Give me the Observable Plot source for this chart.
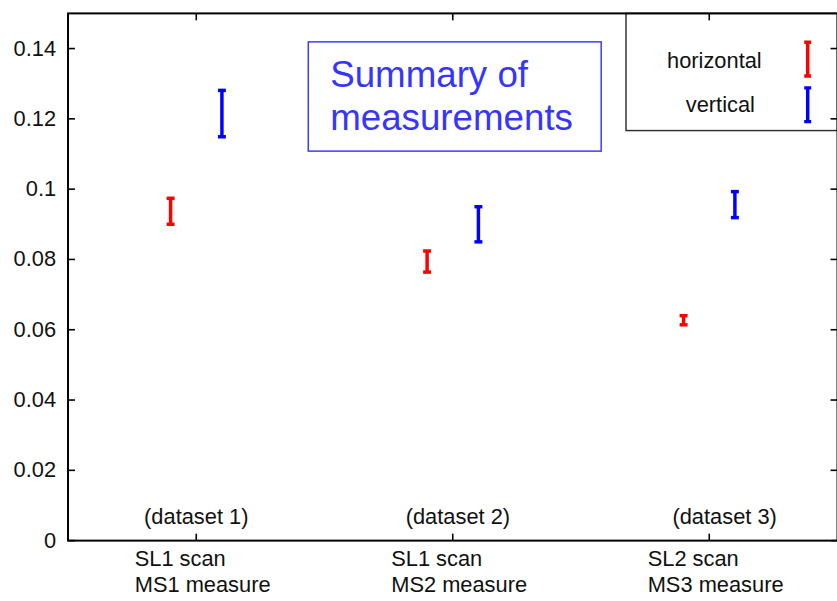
<!DOCTYPE html>
<html>
<head>
<meta charset="utf-8">
<script src="https://cdn.jsdelivr.net/npm/d3@7"></script>
<script src="https://cdn.jsdelivr.net/npm/@observablehq/plot@0.6"></script>
<style>
  html, body { margin: 0; padding: 0; overflow: hidden; background: #fff; }
</style>
</head>
<body>
<div id="chart"></div>
<script>
// Measurement summary: mean ± error per dataset, for horizontal and vertical planes
const positions = [1, 2, 3];
const scanLabels = ["SL1 scan\nMS1 measure", "SL1 scan\nMS2 measure", "SL2 scan\nMS3 measure"];
const datasetLabels = ["(dataset 1)", "(dataset 2)", "(dataset 3)"];
const datasetLabelX = [1.0, 2.02, 3.06];

const series = ["horizontal", "vertical"];
const seriesColors = ["#ff0000", "#0000ff"];
const seriesOffset = [-0.1, 0.1];

const horizontalMean = [0.0937, 0.0794, 0.0627];
const horizontalErr  = [0.0037, 0.0030, 0.0013];
const verticalMean   = [0.1215, 0.0900, 0.0956];
const verticalErr    = [0.0066, 0.0050, 0.0037];

const yTicks = [0, 0.02, 0.04, 0.06, 0.08, 0.1, 0.12, 0.14];
const titleText = "Summary of\nmeasurements";

// Build the table of error bars
const means = [horizontalMean, verticalMean];
const errs = [horizontalErr, verticalErr];
const rows = [];
series.forEach((s, k) => {
  positions.forEach((p, i) => {
    rows.push({series: s, x: p + seriesOffset[k], lo: means[k][i] - errs[k][i], hi: means[k][i] + errs[k][i]});
  });
});

const font = "'Liberation Sans', Arial, Helvetica, sans-serif";
const labelSize = 22;

// Custom symbols: flat error-bar caps, inward tick marks, legend glyph
const cap = {draw(ctx) { ctx.moveTo(-4, 0); ctx.lineTo(4, 0); }};
const tick = (dx, dy) => ({draw(ctx) { ctx.moveTo(0, 0); ctx.lineTo(dx, dy); }});
const legendGlyph = {draw(ctx) {
  ctx.moveTo(0, -17); ctx.lineTo(0, 17);
  ctx.moveTo(-3.5, -17); ctx.lineTo(3.5, -17);
  ctx.moveTo(-3.5, 17); ctx.lineTo(3.5, 17);
}};

const legendDy = [46, 92];
const legendTextDx = [-124, -118];
const legendTextDy = [55, 99];

const chart = Plot.plot({
  width: 843,
  height: 601,
  marginLeft: 68,
  marginRight: 0,
  marginTop: 13,
  marginBottom: 57,
  style: {fontFamily: font, fontSize: labelSize + "px", color: "#111", background: "#fff"},
  x: {domain: [0.5, 3.5], axis: null},
  y: {domain: [0, 0.15], axis: null},
  color: {domain: series, range: seriesColors},
  marks: [
    // error bars
    Plot.ruleX(rows, {x: "x", y1: "lo", y2: "hi", stroke: "series", strokeWidth: 3.5}),
    Plot.dot(rows, {x: "x", y: "lo", symbol: cap, fill: "none", stroke: "series", strokeWidth: 3.5}),
    Plot.dot(rows, {x: "x", y: "hi", symbol: cap, fill: "none", stroke: "series", strokeWidth: 3.5}),

    // dataset captions inside the plot
    Plot.text(datasetLabels, {x: (d, i) => datasetLabelX[i], text: d => d, frameAnchor: "bottom",
      lineAnchor: "bottom", dy: -17, fontSize: labelSize, fill: "#111"}),

    // title box
    Plot.frame({insetLeft: 242, insetRight: 238, insetTop: 28.7, insetBottom: 392.3, stroke: "#3b3bff", strokeWidth: 1.5}),
    Plot.text([titleText], {text: d => d, frameAnchor: "top-left", dx: 264, dy: 117,
      textAnchor: "start", lineAnchor: "bottom", lineHeight: 1.17, fontSize: 37, fill: "#3535ff"}),

    // legend box and entries
    Plot.frame({insetLeft: 562, insetBottom: 413, stroke: "#333", strokeWidth: 1.5}),
    ...series.map((s, k) => Plot.dot([s], {frameAnchor: "top-right", dx: -30, dy: legendDy[k],
      symbol: legendGlyph, fill: "none", stroke: seriesColors[k], strokeWidth: 3.5})),
    ...series.map((s, k) => Plot.text([s], {text: d => d, frameAnchor: "top-right", dx: legendTextDx[k], dy: legendTextDy[k],
      textAnchor: "middle", lineAnchor: "bottom", fontSize: labelSize, fill: "#111"})),

    // inward ticks on all four sides
    Plot.dot(yTicks, {y: d => d, frameAnchor: "left", symbol: tick(7, 0), fill: "none", stroke: "#000", strokeWidth: 1.6}),
    Plot.dot(yTicks, {y: d => d, frameAnchor: "right", symbol: tick(-7, 0), fill: "none", stroke: "#000", strokeWidth: 1.6}),
    Plot.dot(positions, {x: d => d, frameAnchor: "bottom", symbol: tick(0, -7), fill: "none", stroke: "#000", strokeWidth: 1.6}),
    Plot.dot(positions, {x: d => d, frameAnchor: "top", symbol: tick(0, 7), fill: "none", stroke: "#000", strokeWidth: 1.6}),

    // axis labels
    Plot.axisY({ticks: yTicks, tickFormat: d => String(d), tickSize: 0, tickPadding: 12, fontSize: labelSize, fill: "#111"}),
    Plot.text(positions, {x: d => d, text: (d, i) => scanLabels[i], frameAnchor: "bottom", dy: 52, dx: -62,
      textAnchor: "start", lineAnchor: "bottom", lineHeight: 1.2, fontSize: labelSize, fill: "#111"}),

    // plot border
    Plot.frame({stroke: "#000", strokeWidth: 2})
  ]
});

document.getElementById("chart").appendChild(chart);
</script>
</body>
</html>
